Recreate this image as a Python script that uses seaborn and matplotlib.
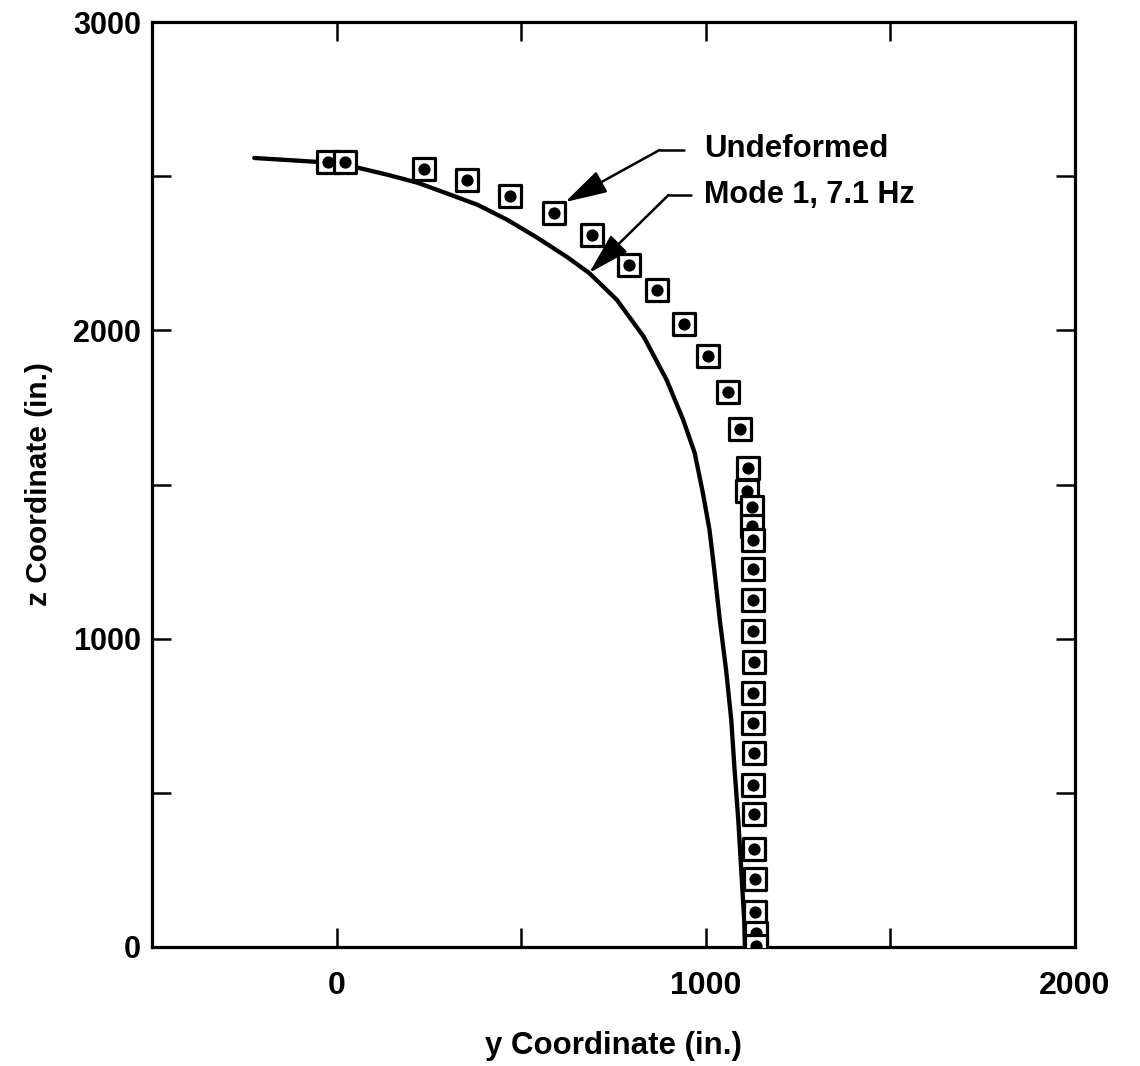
import matplotlib
matplotlib.use("Agg")
import matplotlib.pyplot as plt
import seaborn as sns

# Mode 1 deflected shape (7.1 Hz): y and z coordinates, inches
mode_y = [-223, -48, 59, 140, 221, 310, 382, 463, 544, 624,
          684, 759, 832, 894, 939, 970, 992, 1010, 1023, 1038,
          1055, 1069, 1078, 1088, 1096, 1104, 1106]
mode_z = [2559, 2546, 2527, 2504, 2478, 2439, 2407, 2358, 2300, 2238,
          2186, 2099, 1979, 1839, 1709, 1602, 1473, 1353, 1223, 1060,
          898, 736, 574, 412, 250, 88, 0]

# Undeformed node positions
node_y = [-22, 24, 237, 353, 471, 589, 692, 791, 867, 942,
          1007, 1061, 1093, 1114, 1112, 1125, 1125, 1128, 1128, 1128,
          1128, 1131, 1128, 1128, 1131, 1128, 1131, 1131, 1133, 1133,
          1136, 1136]
node_z = [2546, 2546, 2523, 2488, 2436, 2381, 2309, 2212, 2131, 2020,
          1917, 1800, 1680, 1554, 1479, 1427, 1366, 1320, 1226, 1126,
          1025, 924, 824, 727, 629, 525, 431, 318, 221, 114,
          45, 3]

x_ticks = [-500, 0, 500, 1000, 1500, 2000]
x_tick_labels = ["", "0", "", "1000", "", "2000"]
y_ticks = [0, 500, 1000, 1500, 2000, 2500, 3000]
y_tick_labels = ["0", "", "1000", "", "2000", "", "3000"]

sns.set_theme(style="ticks")
plt.rcParams["font.family"] = ["Liberation Sans", "DejaVu Sans"]
plt.rcParams.update({"text.color": "black", "axes.labelcolor": "black",
                     "xtick.color": "black", "ytick.color": "black",
                     "font.weight": "bold", "axes.labelweight": "bold"})

fig = plt.figure(figsize=(11.4, 10.66), dpi=100)
ax = fig.add_axes([152 / 1140, 119 / 1066, 923 / 1140, 925 / 1066])

# deformed shape
sns.lineplot(x=mode_y, y=mode_z, sort=False, estimator=None,
             color="black", linewidth=3.1, ax=ax, zorder=2,
             solid_joinstyle="round", solid_capstyle="round")

# undeformed nodes: open square with a filled dot, later nodes on top
for i, (yy, zz) in enumerate(zip(node_y, node_z)):
    sns.scatterplot(x=[yy], y=[zz], marker="s", s=16 ** 2,
                    facecolor="white", edgecolor="black", linewidth=2.3,
                    ax=ax, zorder=3 + 2 * i, legend=False)
    sns.scatterplot(x=[yy], y=[zz], marker="o", s=8.8 ** 2,
                    color="black", linewidth=0, ax=ax, zorder=4 + 2 * i,
                    legend=False)

# leader lines and labels
arrow_kw = dict(arrowstyle="-|>,head_length=1.0,head_width=0.28",
                color="black", lw=1.8, mutation_scale=26,
                shrinkA=0, shrinkB=0)
ax.plot([875, 942], [2585, 2585], color="black", lw=1.8)
ax.annotate("", xy=(619, 2416), xytext=(875, 2585), arrowprops=arrow_kw)
ax.text(996, 2562, "Undeformed", fontsize=22.5, va="baseline", ha="left")

ax.plot([899, 961], [2439, 2439], color="black", lw=1.8)
ax.annotate("", xy=(684, 2186), xytext=(899, 2439), arrowprops=arrow_kw)
ax.text(996, 2414, "Mode 1, 7.1 Hz", fontsize=22, va="baseline", ha="left")

ax.set_xlim(-500, 2000)
ax.set_ylim(0, 3000)
ax.set_xticks(x_ticks)
ax.set_xticklabels(x_tick_labels)
ax.set_yticks(y_ticks)
ax.set_yticklabels(y_tick_labels)

ax.tick_params(direction="in", length=14, width=1.8, top=True, right=True,
               colors="black", labelsize=23)
ax.tick_params(axis="x", pad=17)
ax.tick_params(axis="y", pad=8, labelsize=22)
for sp in ax.spines.values():
    sp.set_linewidth(2.3)
    sp.set_color("black")

ax.set_xlabel("y Coordinate (in.)", fontsize=22.5, labelpad=22)
ax.set_ylabel("z Coordinate (in.)", fontsize=21.5, labelpad=14)

fig.savefig("out.png", dpi=100, facecolor="white")
